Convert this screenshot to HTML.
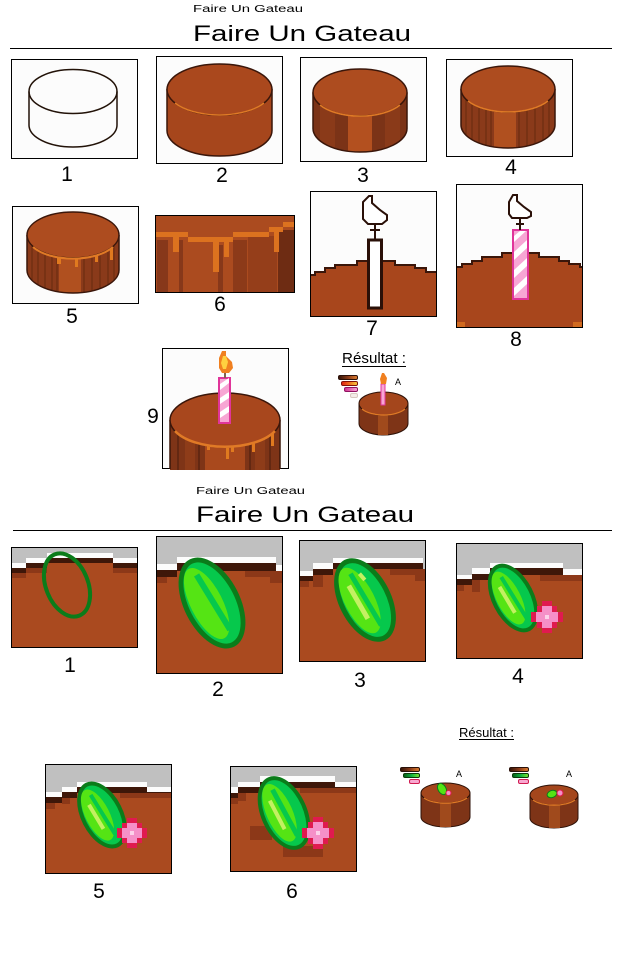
<!DOCTYPE html>
<html><head><meta charset="utf-8"><style>
html,body{margin:0;padding:0;background:#fff;}
svg{display:block;}
.n{font-family:"Liberation Sans",Arial,sans-serif;font-size:21px;fill:#000;text-anchor:middle;}
.t{font-family:"Liberation Sans",Arial,sans-serif;fill:#000;}
</style></head><body>
<svg width="640" height="960" viewBox="0 0 640 960" xmlns="http://www.w3.org/2000/svg">
<defs>
<linearGradient id="gB" x1="0" x2="1"><stop offset="0" stop-color="#2e1206"/><stop offset=".5" stop-color="#8a3a18"/><stop offset="1" stop-color="#e08030"/></linearGradient>
<linearGradient id="gF" x1="0" x2="1"><stop offset="0" stop-color="#e02010"/><stop offset=".5" stop-color="#f07020"/><stop offset="1" stop-color="#f8d040"/></linearGradient>
<linearGradient id="gP" x1="0" x2="1"><stop offset="0" stop-color="#d03090"/><stop offset="1" stop-color="#f8a8d8"/></linearGradient>
<linearGradient id="gG" x1="0" x2="1"><stop offset="0" stop-color="#0a5a16"/><stop offset=".5" stop-color="#10b040"/><stop offset="1" stop-color="#80e830"/></linearGradient>
<clipPath id="c3"><path d="M313,92.5V128.5A47,23.5 0 0 0 407,128.5V92.5Z"/></clipPath>
<clipPath id="c4"><path d="M461,89V125A47,23 0 0 0 555,125V89Z"/></clipPath>
<clipPath id="c5"><path d="M27,235V270A46,23 0 0 0 119,270V235Z"/></clipPath>
<clipPath id="c9"><path d="M170,420V470H280V420Z"/></clipPath>
</defs>

<!-- ===== Section 1 titles ===== -->
<text class="t" x="193" y="12" font-size="10" textLength="110" lengthAdjust="spacingAndGlyphs">Faire Un Gateau</text>
<text class="t" x="193" y="41" font-size="22" textLength="218" lengthAdjust="spacingAndGlyphs">Faire Un Gateau</text>
<rect x="10" y="48" width="602" height="1" fill="#000"/>

<!-- Box 1 -->
<rect x="11.5" y="59.5" width="126" height="99" fill="#fcfcfc" stroke="#000"/>
<ellipse cx="73" cy="91.5" rx="44" ry="22" fill="none" stroke="#221208" stroke-width="1.5"/>
<path d="M29,91.5V125A44,22 0 0 0 117,125V91.5" fill="none" stroke="#221208" stroke-width="1.5"/>
<text class="n" x="67" y="181">1</text>

<!-- Box 2 -->
<rect x="156.5" y="56.5" width="126" height="107" fill="#fcfcfc" stroke="#000"/>
<path d="M167,89.5V130.5A52.5,25.5 0 0 0 272,130.5V89.5Z" fill="#a6461c" stroke="#3a160a" stroke-width="1.5"/>
<ellipse cx="219.5" cy="89.5" rx="52.5" ry="25.5" fill="#aa481d" stroke="#3a160a" stroke-width="1.5"/>
<path d="M175,103A52.5,25.5 0 0 0 264,103" fill="none" stroke="#e07a26" stroke-width="1.5"/>
<text class="n" x="222" y="182">2</text>

<!-- Box 3 -->
<rect x="300.5" y="57.5" width="126" height="104" fill="#fcfcfc" stroke="#000"/>
<g clip-path="url(#c3)">
<rect x="300" y="80" width="127" height="80" fill="#7b3317"/>
<rect x="320" y="80" width="15" height="80" fill="#8a3a19"/>
<rect x="385" y="80" width="15" height="80" fill="#8a3a19"/>
<rect x="348" y="80" width="24" height="80" fill="#b3501f"/>
</g>
<path d="M313,92.5V128.5A47,23.5 0 0 0 407,128.5V92.5" fill="none" stroke="#3a160a" stroke-width="1.5"/>
<ellipse cx="360" cy="92.5" rx="47" ry="23.5" fill="#ad4c1f" stroke="#3a160a" stroke-width="1.5"/>
<path d="M320,105A47,23.5 0 0 0 400,105" fill="none" stroke="#e07a26" stroke-width="1.5"/>
<text class="n" x="363" y="182">3</text>

<!-- Box 4 -->
<rect x="446.5" y="59.5" width="126" height="97" fill="#fcfcfc" stroke="#000"/>
<g clip-path="url(#c4)">
<rect x="455" y="80" width="110" height="80" fill="#8a3a1a"/>
<rect x="494" y="80" width="22" height="80" fill="#b0501f"/>
<g stroke="#65290f" stroke-width="1">
<line x1="466" y1="80" x2="466" y2="160"/><line x1="472" y1="80" x2="472" y2="160"/><line x1="479" y1="80" x2="479" y2="160"/><line x1="486" y1="80" x2="486" y2="160"/><line x1="491" y1="80" x2="491" y2="160"/><line x1="519" y1="80" x2="519" y2="160"/><line x1="527" y1="80" x2="527" y2="160"/><line x1="535" y1="80" x2="535" y2="160"/><line x1="543" y1="80" x2="543" y2="160"/><line x1="549" y1="80" x2="549" y2="160"/>
</g>
</g>
<path d="M461,89V125A47,23 0 0 0 555,125V89" fill="none" stroke="#3a160a" stroke-width="1.5"/>
<ellipse cx="508" cy="89" rx="47" ry="23" fill="#ad4c1f" stroke="#3a160a" stroke-width="1.5"/>
<path d="M468,101A47,23 0 0 0 548,101" fill="none" stroke="#e07a26" stroke-width="1.5"/>
<text class="n" x="511" y="174">4</text>

<!-- Box 5 -->
<rect x="12.5" y="206.5" width="126" height="97" fill="#fcfcfc" stroke="#000"/>
<g clip-path="url(#c5)">
<rect x="20" y="225" width="110" height="75" fill="#8a3a1a"/>
<rect x="59" y="225" width="22" height="75" fill="#b0501f"/>
<g stroke="#65290f" stroke-width="1">
<line x1="32" y1="225" x2="32" y2="300"/><line x1="38" y1="225" x2="38" y2="300"/><line x1="45" y1="225" x2="45" y2="300"/><line x1="52" y1="225" x2="52" y2="300"/><line x1="57" y1="225" x2="57" y2="300"/><line x1="84" y1="225" x2="84" y2="300"/><line x1="92" y1="225" x2="92" y2="300"/><line x1="100" y1="225" x2="100" y2="300"/><line x1="108" y1="225" x2="108" y2="300"/><line x1="114" y1="225" x2="114" y2="300"/>
</g>
<g fill="#e07a1f">
<rect x="57" y="254" width="4" height="10"/><rect x="75" y="255" width="3" height="12"/><rect x="95" y="253" width="3" height="9"/><rect x="110" y="248" width="3" height="12"/>
</g>
</g>
<path d="M27,235V270A46,23 0 0 0 119,270V235" fill="none" stroke="#3a160a" stroke-width="1.5"/>
<ellipse cx="73" cy="235" rx="46" ry="23" fill="#ad4c1f" stroke="#3a160a" stroke-width="1.5"/>
<path d="M33,247A46,23 0 0 0 113,247" fill="none" stroke="#e07a26" stroke-width="2"/>
<text class="n" x="72" y="323">5</text>

<!-- Box 6 -->
<svg x="155" y="215" width="140" height="78" viewBox="155 215 140 78">
<rect x="155" y="215" width="140" height="78" fill="#ab4b1f"/>
<rect x="157" y="240" width="11" height="53" fill="#87381a"/>
<rect x="179" y="240" width="4" height="53" fill="#87381a"/>
<rect x="218" y="245" width="5" height="48" fill="#87381a"/>
<rect x="233" y="240" width="14" height="53" fill="#8c3a19"/>
<rect x="248" y="236" width="29" height="57" fill="#953e1a"/>
<rect x="278" y="230" width="17" height="63" fill="#6e2c13"/>
<g fill="#dc721f">
<rect x="155" y="232" width="33" height="5"/><rect x="188" y="237" width="45" height="5"/><rect x="233" y="232" width="36" height="5"/><rect x="269" y="227" width="14" height="5"/><rect x="283" y="222" width="12" height="5"/>
<rect x="173" y="237" width="6" height="15"/><rect x="213" y="242" width="6" height="30"/><rect x="224" y="242" width="5" height="15"/><rect x="274" y="232" width="5" height="20"/>
</g>
</svg>
<rect x="155.5" y="215.5" width="139" height="77" fill="none" stroke="#000"/>
<text class="n" x="220" y="311">6</text>

<!-- Box 7 -->
<rect x="310.5" y="191.5" width="126" height="125" fill="#fcfcfc" stroke="#000"/>
<polygon points="311,275 315,275 315,272 325,272 325,268 335,268 335,265 357,265 357,261 395,261 395,265 415,265 415,268 426,268 426,272 436,272 436,316 311,316" fill="#a8461c"/>
<polyline points="311,275 315,275 315,272 325,272 325,268 335,268 335,265 357,265 357,261 395,261 395,265 415,265 415,268 426,268 426,272 436,272" fill="none" stroke="#3a160a" stroke-width="2"/>
<rect x="368.5" y="240" width="13" height="68" fill="#fff" stroke="#2a1008" stroke-width="3"/>
<polygon points="369,196 372,196 372,203 380,210 387,215 387,220 382,224 368,224 363,219 363,202" fill="#fff" stroke="#2a1008" stroke-width="2"/>
<path d="M375,224V239M370,230H380" stroke="#2a1008" stroke-width="2" fill="none"/>
<text class="n" x="372" y="335">7</text>

<!-- Box 8 -->
<rect x="456.5" y="184.5" width="126" height="143" fill="#fcfcfc" stroke="#000"/>
<polygon points="457,267 462,267 462,264 472,264 472,261 482,261 482,257 502,257 502,253 539,253 539,257 559,257 559,261 569,261 569,264 580,264 580,267 582,267 582,327 457,327" fill="#a8461c"/>
<polyline points="457,267 462,267 462,264 472,264 472,261 482,261 482,257 502,257 502,253 539,253 539,257 559,257 559,261 569,261 569,264 580,264 580,267 582,267" fill="none" stroke="#3a160a" stroke-width="2"/>
<rect x="457" y="322" width="8" height="5" fill="#d06a20"/><rect x="573" y="322" width="9" height="5" fill="#d06a20"/>
<rect x="513" y="230" width="15" height="69" fill="#f7a6d4" stroke="#e0359a" stroke-width="2"/>
<g fill="#fff">
<polygon points="514,236 520,231 526,231 514,242"/><polygon points="514,252 527,240 527,248 514,260"/><polygon points="514,270 527,258 527,266 514,278"/><polygon points="514,288 527,276 527,284 514,296"/>
</g>
<polygon points="513,195 517,195 517,201 524,207 531,212 531,216 527,218 512,218 509,214 509,202" fill="#fff" stroke="#2a1008" stroke-width="2"/>
<path d="M520,218V230M516,224H524" stroke="#2a1008" stroke-width="2" fill="none"/>
<text class="n" x="516" y="346">8</text>

<!-- Box 9 -->
<rect x="162.5" y="348.5" width="126" height="120" fill="#fcfcfc" stroke="#000"/>
<g clip-path="url(#c9)">
<rect x="170" y="410" width="110" height="60" fill="#7e3417"/>
<rect x="185" y="410" width="10" height="60" fill="#8e3c19"/>
<rect x="205" y="410" width="40" height="60" fill="#a9491d"/>
<rect x="255" y="410" width="10" height="60" fill="#8e3c19"/>
<g stroke="#5a2410" stroke-width="1.5">
<line x1="178" y1="410" x2="178" y2="470"/><line x1="199" y1="410" x2="199" y2="470"/><line x1="250" y1="410" x2="250" y2="470"/><line x1="270" y1="410" x2="270" y2="470"/>
</g>
<g fill="#e07a1f">
<rect x="207" y="440" width="3" height="10"/><rect x="226" y="445" width="3" height="14"/><rect x="231" y="444" width="3" height="8"/><rect x="252" y="440" width="3" height="12"/><rect x="271" y="432" width="3" height="14"/>
</g>
</g>
<path d="M170,420V469M280,420V469" stroke="#3a160a" stroke-width="1.5"/>
<ellipse cx="225" cy="420" rx="55" ry="27" fill="#a8471d" stroke="#3a160a" stroke-width="1.5"/>
<path d="M175,431A55,27 0 0 0 275,431" fill="none" stroke="#e07a26" stroke-width="2.5"/>
<rect x="219" y="378" width="11" height="45" fill="#f7a6d4" stroke="#e0359a" stroke-width="2"/>
<g fill="#fff">
<polygon points="220,384 229,378 229,383 220,390"/><polygon points="220,398 229,392 229,398 220,404"/><polygon points="220,412 229,406 229,412 220,418"/>
</g>
<polygon points="222,351 226,351 226,356 232,362 233,368 229,373 222,373 219,368 219,358" fill="#f08020"/>
<polygon points="223,356 226,356 228,362 226,369 223,369 221,363" fill="#ffd040"/>
<path d="M225,373V378" stroke="#806050" stroke-width="2"/>
<text class="n" x="153" y="423">9</text>

<!-- Result top -->
<text class="t" x="342" y="363" font-size="15" textLength="64" lengthAdjust="spacingAndGlyphs">Résultat :</text>
<rect x="342" y="366" width="64" height="1" fill="#000"/>
<rect x="338.5" y="375.5" width="19" height="4" rx="1.5" fill="url(#gB)" stroke="#2a1008" stroke-width="1"/>
<rect x="341.5" y="381.5" width="16" height="4" rx="1.5" fill="url(#gF)" stroke="#801008" stroke-width="1"/>
<rect x="344.5" y="387.5" width="13" height="4" rx="1.5" fill="url(#gP)" stroke="#901060" stroke-width="1"/>
<rect x="350.5" y="393.5" width="7" height="4" rx="1.5" fill="#f4ece8" stroke="#d8c8c0" stroke-width="1"/>
<path d="M359,403.5V423.5A24.5,11.5 0 0 0 408,423.5V403.5Z" fill="#7e3417" stroke="#2e1208" stroke-width="1"/>
<rect x="378" y="410" width="10" height="25" fill="#a04a1c"/>
<ellipse cx="383.5" cy="403.5" rx="24.5" ry="11.5" fill="#a4461c" stroke="#2e1208" stroke-width="1"/>
<path d="M362,409A24.5,11.5 0 0 0 405,409" fill="none" stroke="#e07a26" stroke-width="1.2"/>
<rect x="381" y="384" width="4" height="21" fill="#f7a6d4" stroke="#e0359a" stroke-width="1"/>
<polygon points="382,373 384,373 387,378 386,384 381,384 380,379" fill="#f08020"/>
<text class="t" x="395" y="385" font-size="9">A</text>

<!-- ===== Section 2 titles ===== -->
<text class="t" x="196" y="494" font-size="10" textLength="109" lengthAdjust="spacingAndGlyphs">Faire Un Gateau</text>
<text class="t" x="196" y="522" font-size="22" textLength="218" lengthAdjust="spacingAndGlyphs">Faire Un Gateau</text>
<rect x="13" y="530" width="599" height="1" fill="#000"/>

<!-- S2 Box 1 -->
<svg x="11" y="547" width="127" height="101" viewBox="11 547 127 101">
<rect x="11" y="547" width="127" height="101" fill="#aa4a1f"/>
<g fill="#c0c0c0"><rect x="11" y="547" width="15" height="16"/><rect x="26" y="547" width="21" height="11"/><rect x="47" y="547" width="66" height="6"/><rect x="113" y="547" width="25" height="11"/></g>
<g fill="#fcfcfc"><rect x="11" y="563" width="15" height="5"/><rect x="26" y="558" width="21" height="5"/><rect x="47" y="553" width="66" height="5"/><rect x="113" y="558" width="25" height="5"/></g>
<g fill="#3e1709"><rect x="11" y="568" width="15" height="5"/><rect x="26" y="563" width="21" height="5"/><rect x="47" y="558" width="66" height="5"/><rect x="113" y="563" width="25" height="5"/></g>
<g fill="#8c3818"><rect x="11" y="573" width="15" height="5"/><rect x="26" y="568" width="21" height="5"/><rect x="113" y="568" width="25" height="5"/></g>
<ellipse cx="67" cy="585" rx="21" ry="33" transform="rotate(-22 67 585)" fill="none" stroke="#0b7c1a" stroke-width="4"/>
</svg>
<rect x="11.5" y="547.5" width="126" height="100" fill="none" stroke="#000"/>
<text class="n" x="70" y="672">1</text>

<!-- S2 Box 2 -->
<svg x="156" y="536" width="127" height="138" viewBox="156 536 127 138">
<rect x="156" y="536" width="127" height="138" fill="#aa4a1f"/>
<g fill="#c0c0c0"><rect x="156" y="536" width="21" height="28"/><rect x="177" y="536" width="99" height="21"/><rect x="276" y="536" width="7" height="29"/></g>
<g fill="#fcfcfc"><rect x="156" y="564" width="21" height="6"/><rect x="177" y="557" width="99" height="6"/><rect x="276" y="565" width="7" height="6"/></g>
<g fill="#3e1709"><rect x="156" y="570" width="21" height="7"/><rect x="177" y="563" width="99" height="8"/><rect x="276" y="571" width="7" height="7"/></g>
<g fill="#8c3818"><rect x="156" y="577" width="11" height="6"/><rect x="245" y="571" width="38" height="6"/><rect x="270" y="577" width="13" height="6"/></g>
<g transform="translate(212,603) rotate(-27)">
<ellipse rx="28" ry="49" fill="#0b7c1a"/>
<ellipse rx="23" ry="44" fill="#06c84c"/>
<ellipse cx="-5" cy="-2" rx="16" ry="39" fill="#55e414"/>
<path d="M-1,-32 L4,32" stroke="#06c84c" stroke-width="6"/>
</g>
</svg>
<rect x="156.5" y="536.5" width="126" height="137" fill="none" stroke="#000"/>
<text class="n" x="218" y="696">2</text>

<!-- S2 Box 3 -->
<svg x="299" y="540" width="127" height="122" viewBox="299 540 127 122">
<rect x="299" y="540" width="127" height="122" fill="#aa4a1f"/>
<g fill="#c0c0c0"><rect x="299" y="540" width="14" height="31"/><rect x="313" y="540" width="20" height="23"/><rect x="333" y="540" width="90" height="18"/><rect x="423" y="540" width="3" height="31"/></g>
<g fill="#fcfcfc"><rect x="299" y="571" width="14" height="5"/><rect x="313" y="563" width="20" height="6"/><rect x="333" y="558" width="90" height="5"/><rect x="423" y="571" width="3" height="5"/></g>
<g fill="#3e1709"><rect x="299" y="576" width="14" height="5"/><rect x="313" y="569" width="20" height="6"/><rect x="333" y="563" width="90" height="6"/><rect x="423" y="576" width="3" height="5"/></g>
<g fill="#8c3818"><rect x="299" y="581" width="10" height="6"/><rect x="313" y="575" width="10" height="12"/><rect x="390" y="569" width="36" height="6"/><rect x="415" y="575" width="11" height="6"/></g>
<g transform="translate(365,600) rotate(-27)">
<ellipse rx="26" ry="45" fill="#0b7c1a"/>
<ellipse rx="21" ry="40" fill="#06c84c"/>
<ellipse cx="-5" cy="-2" rx="15" ry="36" fill="#55e414"/>
<path d="M-1,-30 L3,30" stroke="#06c84c" stroke-width="5"/>
<path d="M-8,-20 L-6,18" stroke="#c4f062" stroke-width="5"/>
<path d="M7,-26 L9,-18" stroke="#c4f062" stroke-width="4"/>
</g>
</svg>
<rect x="299.5" y="540.5" width="126" height="121" fill="none" stroke="#000"/>
<text class="n" x="360" y="687">3</text>

<!-- S2 Box 4 -->
<svg x="456" y="543" width="127" height="116" viewBox="456 543 127 116">
<rect x="456" y="543" width="127" height="116" fill="#aa4a1f"/>
<g fill="#c0c0c0"><rect x="456" y="543" width="16" height="32"/><rect x="472" y="543" width="18" height="25"/><rect x="490" y="543" width="73" height="20"/><rect x="563" y="543" width="20" height="26"/></g>
<g fill="#fcfcfc"><rect x="456" y="575" width="16" height="4"/><rect x="472" y="568" width="18" height="6"/><rect x="490" y="563" width="73" height="5"/><rect x="563" y="569" width="20" height="6"/></g>
<g fill="#3e1709"><rect x="456" y="579" width="16" height="6"/><rect x="472" y="574" width="18" height="6"/><rect x="490" y="568" width="73" height="7"/><rect x="563" y="575" width="20" height="6"/></g>
<g fill="#8c3818"><rect x="456" y="585" width="8" height="6"/><rect x="472" y="580" width="8" height="12"/><rect x="540" y="575" width="43" height="6"/></g>
<g transform="translate(513,598) rotate(-27)">
<ellipse rx="21" ry="37" fill="#0b7c1a"/>
<ellipse rx="17" ry="33" fill="#06c84c"/>
<ellipse cx="-4" cy="-2" rx="12" ry="29" fill="#55e414"/>
<path d="M-1,-24 L3,24" stroke="#06c84c" stroke-width="4"/>
<path d="M-7,-16 L-5,14" stroke="#c4f062" stroke-width="4"/>
</g>
<g transform="translate(547,617)">
<path d="M-5,-16H5V-11H10V-5H16V5H10V11H5V16H-5V11H-10V5H-16V-5H-10V-11H-5Z" fill="#e01a4f"/>
<path d="M-5,-11H5V-5H11V5H5V11H-5V5H-11V-5H-5Z" fill="#f590c8"/>
<rect x="-2" y="-2" width="4" height="4" fill="#fcd2ea"/>
</g>
</svg>
<rect x="456.5" y="543.5" width="126" height="115" fill="none" stroke="#000"/>
<text class="n" x="518" y="683">4</text>

<!-- Result bottom label -->
<text class="t" x="459" y="737" font-size="12.5" textLength="55" lengthAdjust="spacingAndGlyphs">Résultat :</text>
<rect x="459" y="739" width="55" height="1" fill="#000"/>

<!-- S2 Box 5 -->
<svg x="45" y="764" width="127" height="110" viewBox="45 764 127 110">
<rect x="45" y="764" width="127" height="110" fill="#aa4a1f"/>
<g fill="#c0c0c0"><rect x="45" y="764" width="17" height="28"/><rect x="62" y="764" width="15" height="23"/><rect x="77" y="764" width="70" height="18"/><rect x="147" y="764" width="25" height="23"/></g>
<g fill="#fcfcfc"><rect x="45" y="792" width="17" height="5"/><rect x="62" y="787" width="15" height="5"/><rect x="77" y="782" width="70" height="5"/><rect x="147" y="787" width="25" height="5"/></g>
<g fill="#3e1709"><rect x="45" y="797" width="17" height="6"/><rect x="62" y="792" width="15" height="6"/><rect x="77" y="787" width="70" height="6"/><rect x="147" y="792" width="25" height="5"/></g>
<g fill="#8c3818"><rect x="45" y="803" width="10" height="6"/><rect x="62" y="798" width="8" height="6"/><rect x="120" y="793" width="52" height="5"/></g>
<g transform="translate(102,815) rotate(-27)">
<ellipse rx="21" ry="36" fill="#0b7c1a"/>
<ellipse rx="17" ry="32" fill="#06c84c"/>
<ellipse cx="-4" cy="-2" rx="12" ry="28" fill="#55e414"/>
<path d="M-1,-23 L3,23" stroke="#06c84c" stroke-width="4"/>
<path d="M-7,-15 L-5,13" stroke="#c4f062" stroke-width="4"/>
</g>
<g transform="translate(132,833)">
<path d="M-5,-15H5V-10H10V-5H15V5H10V10H5V15H-5V10H-10V5H-15V-5H-10V-10H-5Z" fill="#e01a4f"/>
<path d="M-5,-10H5V-5H10V5H5V10H-5V5H-10V-5H-5Z" fill="#f590c8"/>
<rect x="-2" y="-2" width="4" height="4" fill="#fcd2ea"/>
</g>
</svg>
<rect x="45.5" y="764.5" width="126" height="109" fill="none" stroke="#000"/>
<text class="n" x="99" y="898">5</text>

<!-- S2 Box 6 -->
<svg x="230" y="766" width="127" height="106" viewBox="230 766 127 106">
<rect x="230" y="766" width="127" height="106" fill="#aa4a1f"/>
<g fill="#c0c0c0"><rect x="230" y="766" width="8" height="21"/><rect x="238" y="766" width="22" height="16"/><rect x="260" y="766" width="75" height="10"/><rect x="335" y="766" width="22" height="16"/></g>
<g fill="#fcfcfc"><rect x="230" y="787" width="8" height="6"/><rect x="238" y="782" width="22" height="5"/><rect x="260" y="776" width="75" height="6"/><rect x="335" y="782" width="22" height="5"/></g>
<g fill="#3e1709"><rect x="230" y="793" width="8" height="5"/><rect x="238" y="787" width="22" height="6"/><rect x="260" y="782" width="75" height="6"/><rect x="335" y="787" width="22" height="6"/></g>
<g fill="#8c3818"><rect x="230" y="798" width="8" height="6"/><rect x="238" y="793" width="8" height="8"/><rect x="300" y="788" width="57" height="5"/>
<rect x="250" y="826" width="22" height="14"/><rect x="283" y="846" width="40" height="11"/></g>
<g transform="translate(284,813) rotate(-24)">
<ellipse rx="23" ry="39" fill="#0b7c1a"/>
<ellipse rx="19" ry="35" fill="#06c84c"/>
<ellipse cx="-4" cy="-2" rx="13" ry="31" fill="#55e414"/>
<path d="M-1,-26 L3,26" stroke="#06c84c" stroke-width="5"/>
<path d="M-8,-17 L-6,15" stroke="#c4f062" stroke-width="4"/>
</g>
<g transform="translate(318,833)">
<path d="M-5,-16H5V-11H10V-5H16V5H10V11H5V16H-5V11H-10V5H-16V-5H-10V-11H-5Z" fill="#e01a4f"/>
<path d="M-5,-11H5V-5H11V5H5V11H-5V5H-11V-5H-5Z" fill="#f590c8"/>
<rect x="-2" y="-2" width="4" height="4" fill="#fcd2ea"/>
</g>
</svg>
<rect x="230.5" y="766.5" width="126" height="105" fill="none" stroke="#000"/>
<text class="n" x="292" y="898">6</text>

<!-- Result cake 1 -->
<rect x="400.5" y="767.5" width="19" height="4" rx="1.5" fill="url(#gB)" stroke="#2a1008" stroke-width="1"/>
<rect x="403.5" y="773.5" width="16" height="4" rx="1.5" fill="url(#gG)" stroke="#0a3a0a" stroke-width="1"/>
<rect x="409.5" y="779.5" width="10" height="4" rx="1.5" fill="#f8a8d0" stroke="#d01a50" stroke-width="1"/>
<text class="t" x="456" y="777" font-size="9">A</text>
<path d="M421,793V817A24.5,10 0 0 0 470,817V793Z" fill="#7e3417" stroke="#2e1208" stroke-width="1"/>
<rect x="440" y="800" width="11" height="27" fill="#a04a1c"/>
<ellipse cx="445.5" cy="793" rx="24.5" ry="10" fill="#a4461c" stroke="#2e1208" stroke-width="1"/>
<path d="M424,798A24.5,10 0 0 0 467,798" fill="none" stroke="#e07a26" stroke-width="1.2"/>
<ellipse cx="442" cy="789" rx="4" ry="6" transform="rotate(-30 442 789)" fill="#55e414" stroke="#0b7c1a" stroke-width="1"/>
<circle cx="448.5" cy="793" r="2.5" fill="#f590c8" stroke="#e01a4f" stroke-width="1"/>

<!-- Result cake 2 -->
<rect x="509.5" y="767.5" width="19" height="4" rx="1.5" fill="url(#gB)" stroke="#2a1008" stroke-width="1"/>
<rect x="512.5" y="773.5" width="16" height="4" rx="1.5" fill="url(#gG)" stroke="#0a3a0a" stroke-width="1"/>
<rect x="518.5" y="779.5" width="10" height="4" rx="1.5" fill="#f8a8d0" stroke="#d01a50" stroke-width="1"/>
<text class="t" x="566" y="777" font-size="9">A</text>
<path d="M530,795V818A24,10 0 0 0 578,818V795Z" fill="#7e3417" stroke="#2e1208" stroke-width="1"/>
<rect x="549" y="802" width="11" height="26" fill="#a04a1c"/>
<ellipse cx="554" cy="795" rx="24" ry="10" fill="#a4461c" stroke="#2e1208" stroke-width="1"/>
<path d="M533,800A24,10 0 0 0 575,800" fill="none" stroke="#e07a26" stroke-width="1.2"/>
<ellipse cx="552" cy="794" rx="5" ry="3.5" transform="rotate(-20 552 794)" fill="#55e414" stroke="#0b7c1a" stroke-width="1"/>
<circle cx="560" cy="793" r="3" fill="#f590c8" stroke="#e01a4f" stroke-width="1"/>
</svg>
</body></html>
